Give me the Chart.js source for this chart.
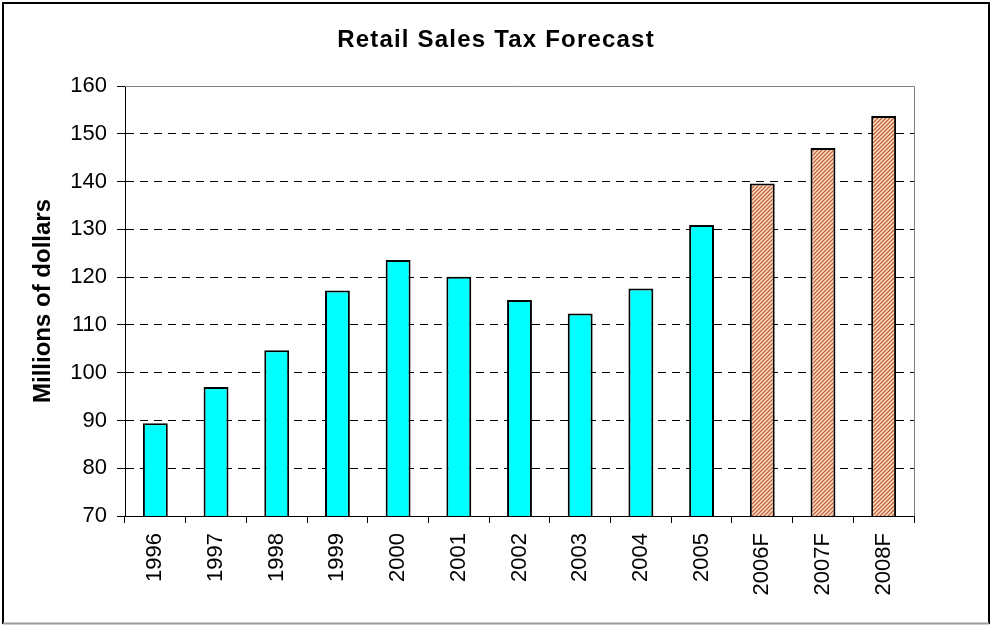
<!DOCTYPE html>
<html>
<head>
<meta charset="utf-8">
<script src="https://cdn.jsdelivr.net/npm/chart.js@4/dist/chart.umd.min.js"></script>
<style>
  body { margin: 0; background: #fff; }
  #wrap { width: 992px; height: 625px; }
</style>
</head>
<body>
<div id="wrap"><canvas id="myChart" width="992" height="625"></canvas></div>
<script>
// years, F = forecast
var years = ['1996', '1997', '1998', '1999', '2000', '2001', '2002', '2003', '2004', '2005', '2006F', '2007F', '2008F'];
var sales = [89.4, 97.0, 104.7, 117.2, 123.6, 120.1, 115.2, 112.4, 117.6, 130.9, 139.6, 147.0, 153.7];
var yTicks = [70, 80, 90, 100, 110, 120, 130, 140, 150, 160];

var FONT = 'Liberation Sans, Arial, sans-serif';

// hatch fill for forecast bars
function hatch() {
	var pc = document.createElement('canvas');
	pc.width = 4; pc.height = 4;
	var p = pc.getContext('2d');
	p.fillStyle = '#fbe2cc';
	p.fillRect(0, 0, 4, 4);
	p.strokeStyle = '#c4623a';
	p.lineWidth = 1.3;
	p.beginPath();
	p.moveTo(0, 4); p.lineTo(4, 0);
	p.moveTo(-1, 1); p.lineTo(1, -1);
	p.moveTo(3, 5); p.lineTo(5, 3);
	p.stroke();
	return p.createPattern(pc, 'repeat');
}
var hatchFill = hatch();

var frame = {
	id: 'frame',
	beforeDraw: function(chart) {
		// the original title is a bit letter-spaced
		var tb = chart.titleBlock;
		if (tb && !tb._spaced) {
			var orig = tb.draw;
			tb.draw = function() {
				var c = this.ctx;
				c.save();
				c.letterSpacing = '1.2px';
				orig.apply(this, arguments);
				c.restore();
			};
			tb._spaced = true;
		}
	},
	afterDraw: function(chart) {
		var c = chart.ctx, a = chart.chartArea;
		c.save();
		// plot area top / right edge
		c.strokeStyle = '#808080';
		c.lineWidth = 1;
		c.beginPath();
		c.moveTo(a.left, a.top + 0.5); c.lineTo(a.right + 0.5, a.top + 0.5);
		c.lineTo(a.right + 0.5, a.bottom);
		c.stroke();
		// outer border
		c.strokeStyle = '#000';
		c.lineWidth = 2;
		c.beginPath();
		c.moveTo(3, 624); c.lineTo(3, 3); c.lineTo(989, 3); c.lineTo(989, 624);
		c.stroke();
		c.strokeStyle = '#999';
		c.beginPath();
		c.moveTo(3, 623.5); c.lineTo(989, 623.5);
		c.stroke();
		c.restore();
	}
};

var ctx1 = document.getElementById('myChart').getContext('2d');
new Chart(ctx1, {
	type: 'bar',
	data: {
		labels: years,
		datasets: [{
			data: sales,
			backgroundColor: function(c) {
				return years[c.dataIndex].slice(-1) === 'F' ? hatchFill : '#00ffff';
			},
			borderColor: '#000',
			borderWidth: 2,
			barPercentage: 0.41,
			categoryPercentage: 1
		}]
	},
	options: {
		responsive: false,
		animation: false,
		devicePixelRatio: 1,
		layout: { padding: 0 },
		plugins: {
			legend: { display: false },
			tooltip: { enabled: false },
			title: {
				display: true,
				text: 'Retail Sales Tax Forecast',
				color: '#000',
				font: { family: FONT, size: 24, weight: 'bold', lineHeight: 1.2 },
				padding: { top: 26, bottom: 31.2 }
			}
		},
		scales: {
			x: {
				afterFit: function(s) { s.height = 109; },
				grid: { drawOnChartArea: false, drawTicks: true, tickLength: 7, tickColor: '#000', offset: true },
				border: { display: true, color: '#000', width: 1 },
				ticks: {
					color: '#000',
					font: { family: FONT, size: 22 },
					maxRotation: 90,
					minRotation: 90,
					padding: 10,
					autoSkip: false
				}
			},
			y: {
				min: 70,
				max: 160,
				afterFit: function(s) { s.width = 125; },
				afterBuildTicks: function(s) {
					s.ticks = yTicks.map(function(v) { return { value: v }; });
				},
				grid: {
					color: function(c) { return c.tick && c.tick.value === 160 ? 'rgba(0,0,0,0)' : '#000'; },
					tickColor: '#000',
					tickLength: 8,
					lineWidth: 1
				},
				border: { display: true, color: '#000', width: 1, dash: [8, 6] },
				ticks: {
					color: '#000',
					font: { family: FONT, size: 22 },
					padding: 10
				},
				title: {
					display: true,
					text: 'Millions of dollars',
					color: '#000',
					font: { family: FONT, size: 24, weight: 'bold', lineHeight: 1.2 },
					padding: { top: 29, bottom: 0 }
				}
			},
			// empty space on the right, keeps the title centred on the whole box
			yPad: {
				position: 'right',
				min: 70,
				max: 160,
				afterFit: function(s) { s.width = 78; },
				grid: { drawOnChartArea: false, drawTicks: false },
				border: { display: false },
				ticks: { display: false }
			}
		}
	},
	plugins: [frame]
});
</script>
</body>
</html>
